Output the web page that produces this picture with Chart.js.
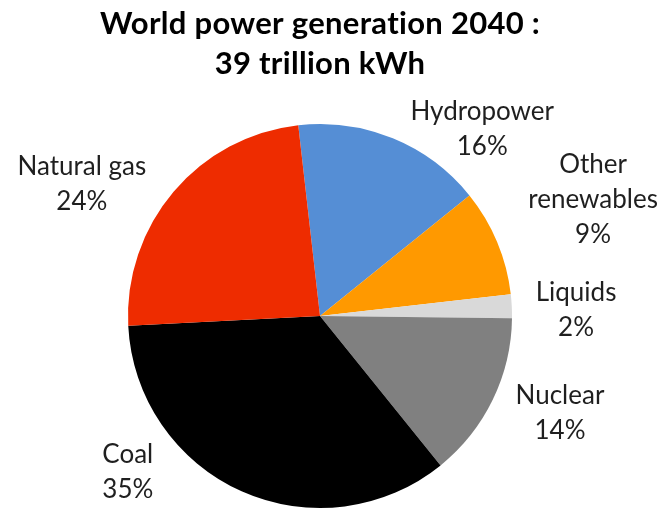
<!DOCTYPE html>
<html>
<head>
<meta charset="utf-8">
<script src="https://cdn.jsdelivr.net/npm/chart.js@4/dist/chart.umd.min.js"></script>
<style>
  html, body { margin: 0; padding: 0; background: #fff; }
  #wrap { width: 665px; height: 509px; position: relative; }
</style>
</head>
<body>
<div id="wrap"><canvas id="pie"></canvas></div>
<script>
// Data
const categories = ['Hydropower', 'Other renewables', 'Liquids', 'Nuclear', 'Coal', 'Natural gas'];
const shares = [16, 9, 2, 14, 35, 24];
const sliceColors = ['#558ED5', '#FF9900', '#D9D9D9', '#808080', '#000000', '#EE2C00'];

// label text lines (as in the source) and where they sit round the pie
const labelLines = [['Hydropower'], ['Other', 'renewables'], ['Liquids'], ['Nuclear'], ['Coal'], ['Natural gas']];
const labelAngle = [41, 67, 88.7, 112, 231, 299];      // degrees clockwise from top
const labelDist = [1.288, 1.545, 1.334, 1.348, 1.288, 1.418]; // x outer radius

const labelFont = '400 26px Lato';
const lineGap = 35;

// a little letter spacing stops Lato joining "ti" in the title
const noLigatures = {
  id: 'noLigatures',
  beforeDraw(chart) {
    chart.ctx.letterSpacing = '0.3px';
  }
};

// draws the outside labels, placed from the arc's own centre and radius
const outsideLabels = {
  id: 'outsideLabels',
  afterDatasetsDraw(chart) {
    const ctx = chart.ctx;
    const meta = chart.getDatasetMeta(0);
    ctx.save();
    ctx.letterSpacing = '0px';
    ctx.font = labelFont;
    ctx.fillStyle = '#1f1f1f';
    ctx.textAlign = 'center';
    ctx.textBaseline = 'middle';
    meta.data.forEach((arc, i) => {
      const a = labelAngle[i] * Math.PI / 180;
      const r = arc.outerRadius * labelDist[i];
      const cx = arc.x + Math.sin(a) * r;
      const cy = arc.y - Math.cos(a) * r;
      const lines = labelLines[i].concat([shares[i] + '%']);
      const top = cy - (lines.length - 1) * lineGap / 2;
      lines.forEach((t, k) => ctx.fillText(t, cx, top + k * lineGap));
    });
    ctx.restore();
  }
};

new Chart(document.getElementById('pie'), {
  type: 'pie',
  data: {
    labels: categories,
    datasets: [{
      data: shares,
      backgroundColor: sliceColors,
      borderWidth: 0
    }]
  },
  options: {
    responsive: true,
    maintainAspectRatio: false,
    animation: false,
    rotation: -6.5,
    layout: { padding: { left: 0, right: 25, top: 0, bottom: 1 } },
    plugins: {
      legend: { display: false },
      tooltip: { enabled: false },
      title: {
        display: true,
        text: ['World power generation 2040 :', '39 trillion kWh'],
        color: '#000',
        font: { family: 'Lato', size: 31, weight: 'bold', lineHeight: 1.29 },
        padding: { top: 4, bottom: 40 }
      }
    }
  },
  plugins: [noLigatures, outsideLabels]
});
</script>
</body>
</html>
